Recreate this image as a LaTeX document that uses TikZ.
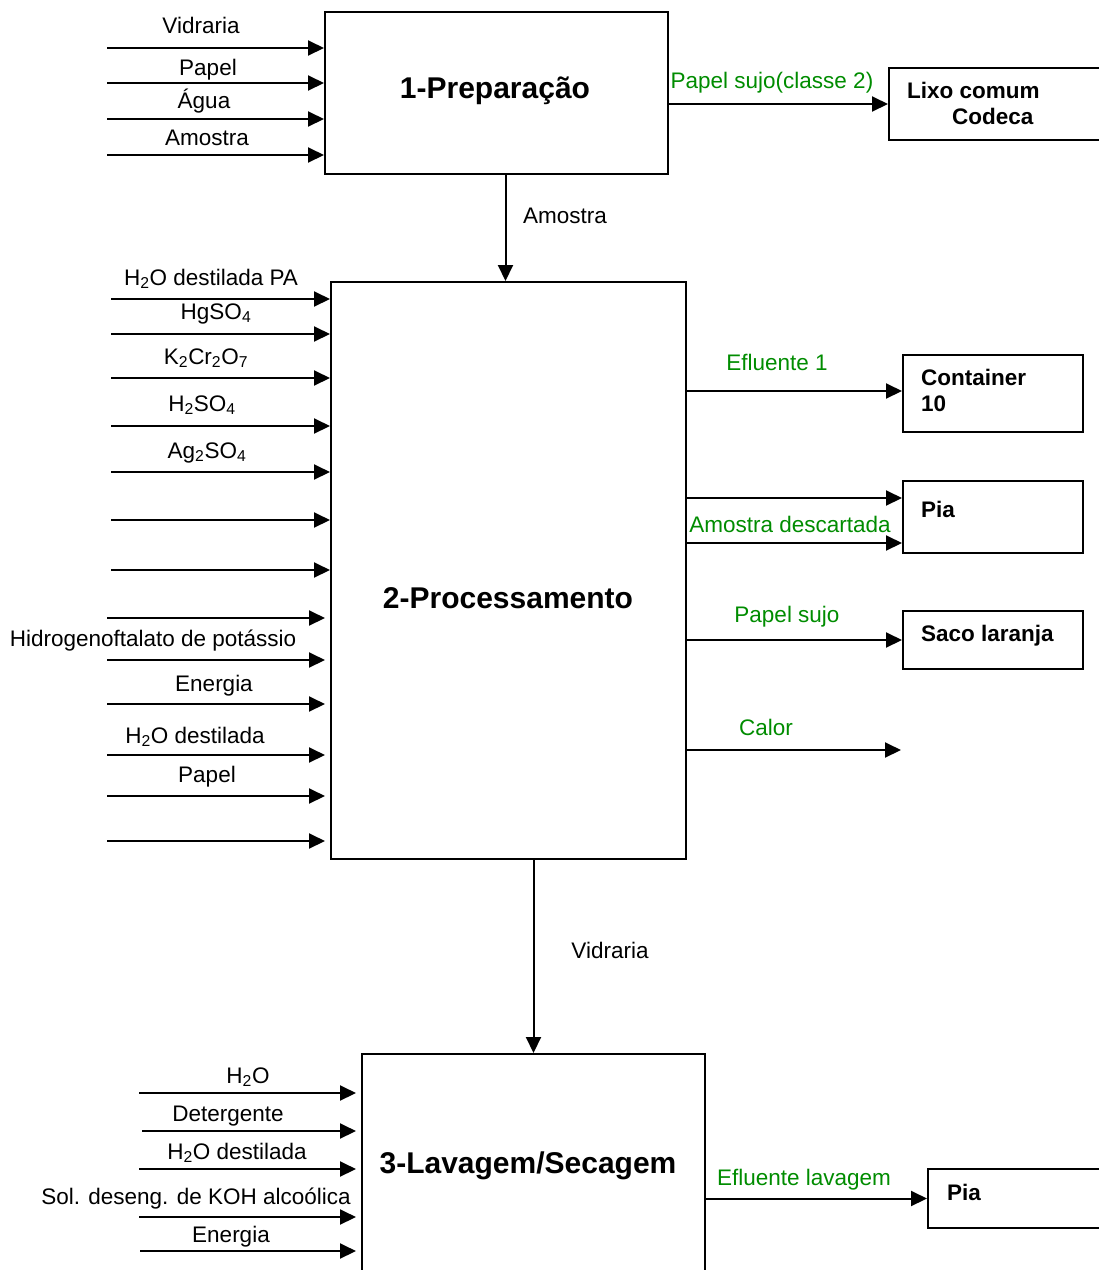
\documentclass[tikz,border=0pt]{standalone}
\usepackage{fontspec}
\setmainfont{Liberation Sans}
\usetikzlibrary{arrows.meta,calc}
\definecolor{outgreen}{RGB}{0,140,0}
\tikzset{
  stepbox/.style={
    draw,
    line width=2pt,
    inner sep=0,
    anchor=north west
  },
  sinkbox/.style={
    draw,
    line width=2pt,
    inner sep=0,
    anchor=north west
  },
  flow/.style={
    -{Triangle[length=16pt,width=15pt]},
    line width=2pt
  },
  inlabel/.style={
    inner sep=0,
    anchor=base,
    font=\fontsize{22.5}{26}\selectfont
  },
  outlabel/.style={
    inlabel,
    text=outgreen
  },
  steptitle/.style={
    inner sep=0,
    anchor=base,
    font=\bfseries\fontsize{30}{34}\selectfont
  },
  sinktext/.style={
    inner sep=0,
    anchor=base west,
    font=\bfseries\fontsize{22.5}{26}\selectfont
  },
  every picture/.style={
    x=1pt,
    y=-1pt
  }
}
\begin{document}
\begin{tikzpicture}
            \useasboundingbox (0,0) rectangle (1099,1270);
            % process steps
            \node[stepbox,minimum width=343pt,minimum height=162pt] (prep) at (324,11) {};
            \node[stepbox,minimum width=355pt,minimum height=577pt] (proc) at (330,281) {};
            \node[stepbox,minimum width=343pt,minimum height=260pt] (lav) at (361,1053) {};
            \node[steptitle] (prept) at (495,98) {1-Preparação};
            \node[steptitle] (proct) at (508,608) {2-Processamento};
            \node[steptitle] (lavt) at (528,1173) {3-Lavagem/Secagem};
            % destinations
            \node[sinkbox,minimum width=240pt,minimum height=72pt] (lixo) at (888,67) {};
            \node[sinkbox,minimum width=180pt,minimum height=77pt] (cont) at (902,354) {};
            \node[sinkbox,minimum width=180pt,minimum height=72pt] (piaa) at (902,480) {};
            \node[sinkbox,minimum width=180pt,minimum height=58pt] (saco) at (902,610) {};
            \node[sinkbox,minimum width=200pt,minimum height=59pt] (piab) at (927,1168) {};
            \node[sinktext] (lixot) at (907,98) {Lixo comum};
            \node[sinktext] (codt) at (952,124) {Codeca};
            \node[sinktext] (contt) at (921,385) {Container};
            \node[sinktext] (dezt) at (921,411) {10};
            \node[sinktext] (piaat) at (921,517) {Pia};
            \node[sinktext] (sacot) at (921,641) {Saco laranja};
            \node[sinktext] (piabt) at (947,1200) {Pia};
            % inputs of step 1
            \coordinate (p1) at (107,48);
            \coordinate (p2) at (107,83);
            \coordinate (p3) at (107,119);
            \coordinate (p4) at (107,155);
            \draw[flow] (p1) -- (p1 -| prep.west);
            \draw[flow] (p2) -- (p2 -| prep.west);
            \draw[flow] (p3) -- (p3 -| prep.west);
            \draw[flow] (p4) -- (p4 -| prep.west);
            \node[inlabel] (p1l) at (201,33) {Vidraria};
            \node[inlabel] (p2l) at (208,75) {Papel};
            \node[inlabel] (p3l) at (204,108) {Água};
            \node[inlabel] (p4l) at (207,145) {Amostra};
            % output of step 1
            \draw[flow] (prep.east |- lixo.west) -- (lixo.west);
            \node[outlabel] (p5l) at (772,88) {Papel sujo(classe 2)};
            \coordinate (amotop) at ([xshift=-3pt]proc.north);
            \draw[flow] (amotop |- prep.south) -- (amotop);
            \node[inlabel] (amol) at (565,223) {Amostra};
            % inputs of step 2
            \coordinate (q1) at (111,299);
            \coordinate (q2) at (111,334);
            \coordinate (q3) at (111,378);
            \coordinate (q4) at (111,426);
            \coordinate (q5) at (111,472);
            \coordinate (q6) at (111,520);
            \coordinate (q7) at (111,570);
            \coordinate (q8) at (107,618);
            \coordinate (q9) at (107,660);
            \coordinate (q10) at (107,704);
            \coordinate (q11) at (107,755);
            \coordinate (q12) at (107,796);
            \coordinate (q13) at (107,841);
            \draw[flow] (q1) -- (q1 -| proc.west);
            \draw[flow] (q2) -- (q2 -| proc.west);
            \draw[flow] (q3) -- (q3 -| proc.west);
            \draw[flow] (q4) -- (q4 -| proc.west);
            \draw[flow] (q5) -- (q5 -| proc.west);
            \draw[flow] (q6) -- (q6 -| proc.west);
            \draw[flow] (q7) -- (q7 -| proc.west);
            \draw[flow,shorten >=5pt] (q8) -- (q8 -| proc.west);
            \draw[flow,shorten >=5pt] (q9) -- (q9 -| proc.west);
            \draw[flow,shorten >=5pt] (q10) -- (q10 -| proc.west);
            \draw[flow,shorten >=5pt] (q11) -- (q11 -| proc.west);
            \draw[flow,shorten >=5pt] (q12) -- (q12 -| proc.west);
            \draw[flow,shorten >=5pt] (q13) -- (q13 -| proc.west);
            \node[inlabel] (q1l) at (211,285) {H\textsubscript{2}O destilada PA};
            \node[inlabel] (q2l) at (216,319) {HgSO\textsubscript{4}};
            \node[inlabel] (q3l) at (206,364) {K\textsubscript{2}Cr\textsubscript{2}O\textsubscript{7}};
            \node[inlabel] (q4l) at (202,411) {H\textsubscript{2}SO\textsubscript{4}};
            \node[inlabel] (q5l) at (207,458) {Ag\textsubscript{2}SO\textsubscript{4}};
            \node[inlabel] (q9l) at (153,646) {Hidrogenoftalato de potássio};
            \node[inlabel] (q10l) at (214,691) {Energia};
            \node[inlabel] (q11l) at (195,743) {H\textsubscript{2}O destilada};
            \node[inlabel] (q12l) at (207,782) {Papel};
            % outputs of step 2
            \coordinate (calor) at (901,750);
            \coordinate (contin) at ([yshift=2.5pt]cont.west);
            \coordinate (piaup) at ([yshift=19pt]piaa.west);
            \coordinate (pialow) at ([yshift=-26pt]piaa.west);
            \draw[flow] (proc.east |- contin) -- (contin);
            \draw[flow] (proc.east |- piaup) -- (piaup);
            \draw[flow] (proc.east |- pialow) -- (pialow);
            \draw[flow] (proc.east |- saco.west) -- (saco.west);
            \draw[flow] (proc.east |- calor) -- (calor);
            \node[outlabel] (ef1l) at (777,370) {Efluente 1};
            \node[outlabel] (adl) at (790,532) {Amostra descartada};
            \node[outlabel] (psl) at (787,622) {Papel sujo};
            \node[outlabel] (call) at (766,735) {Calor};
            \draw[flow] (lav.north |- proc.south) -- (lav.north);
            \node[inlabel] (vidl) at (610,958) {Vidraria};
            % inputs of step 3
            \coordinate (r1) at (139,1093);
            \coordinate (r2) at (142,1131);
            \coordinate (r3) at (139,1169);
            \coordinate (r4) at (139,1217);
            \coordinate (r5) at (140,1251);
            \draw[flow,shorten >=5pt] (r1) -- (r1 -| lav.west);
            \draw[flow,shorten >=5pt] (r2) -- (r2 -| lav.west);
            \draw[flow,shorten >=5pt] (r3) -- (r3 -| lav.west);
            \draw[flow,shorten >=5pt] (r4) -- (r4 -| lav.west);
            \draw[flow,shorten >=5pt] (r5) -- (r5 -| lav.west);
            \node[inlabel] (r1l) at (248,1083) {H\textsubscript{2}O};
            \node[inlabel] (r2l) at (228,1121) {Detergente};
            \node[inlabel] (r3l) at (237,1159) {H\textsubscript{2}O destilada};
            \node[inlabel] (r4l) at (196,1204) {Sol. deseng. de KOH alcoólica};
            \node[inlabel] (r5l) at (231,1242) {Energia};
            % output of step 3
            \draw[flow] (lav.east |- piab.west) -- (piab.west);
            \node[outlabel] (efll) at (804,1185) {Efluente lavagem};
\end{tikzpicture}
\end{document}
